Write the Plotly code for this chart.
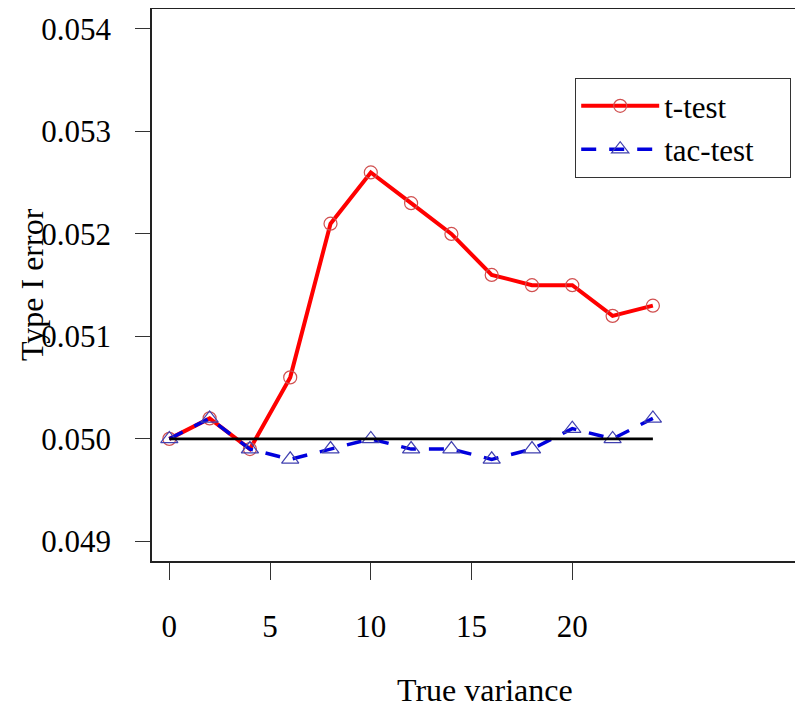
import plotly.graph_objects as go

true_variance = [0, 2, 4, 6, 8, 10, 12, 14, 16, 18, 20, 22, 24]
t_test = [0.0500, 0.0502, 0.0499, 0.0506, 0.0521, 0.0526, 0.0523, 0.0520,
          0.0516, 0.0515, 0.0515, 0.0512, 0.0513]
tac_test = [0.0500, 0.0502, 0.0499, 0.0498, 0.0499, 0.0500, 0.0499, 0.0499,
            0.0498, 0.0499, 0.0501, 0.0500, 0.0502]
ref_x = [0, 24]
ref_y = [0.05, 0.05]
x_ticks = [0, 5, 10, 15, 20]
y_ticks = [0.049, 0.050, 0.051, 0.052, 0.053, 0.054]
y_tick_text = ["0.049", "0.050", "0.051", "0.052", "0.053", "0.054"]
series_names = ["t-test", "tac-test"]

serif = "Liberation Serif"
pad = "\u00a0" * 4  # right-hand breathing room inside the legend box

fig = go.Figure()
fig.add_trace(go.Scatter(
    x=true_variance, y=t_test, name=series_names[0] + pad, mode="lines+markers",
    line=dict(color="#ff0000", width=4),
    marker=dict(symbol="circle-open", size=13, color="#d05050",
                line=dict(width=1.2, color="#d05050")),
))
fig.add_trace(go.Scatter(
    x=true_variance, y=tac_test, name=series_names[1] + pad, mode="lines+markers",
    line=dict(color="#0000dd", width=3.5, dash="15px,13px"),
    marker=dict(symbol="triangle-up-open", size=15, color="#4040b0",
                line=dict(width=1.2, color="#4040b0")),
))
fig.add_trace(go.Scatter(
    x=ref_x, y=ref_y, mode="lines", showlegend=False,
    line=dict(color="#000000", width=2.8), hoverinfo="skip",
))

# page has an 8px body margin: compensate so the plot lands where the reference has it
OFF = 8
W, H = 803 - OFF, 707 - OFF
L, R, T, B = 152 - OFF, 0, 1, 707 - 561
pw = W - L - R
ph = H - T - B

def px_x(px):
    return (px - OFF - L) / pw

def px_y(py):
    return 1 - (py - OFF - T) / ph

fig.update_layout(
    width=W, height=H,
    margin=dict(l=L, r=R, t=T, b=B, pad=0),
    plot_bgcolor="white", paper_bgcolor="white",
    font=dict(family=serif, color="#000000"),
    showlegend=True,
    legend=dict(
        x=px_x(575), y=px_y(78), xanchor="left", yanchor="top",
        bordercolor="#333333", borderwidth=1.2, bgcolor="white",
        font=dict(family=serif, size=31, color="#000000"),
        itemwidth=78, tracegroupgap=0,
    ),
    xaxis=dict(
        range=[-0.86, 31.45], tickvals=x_ticks, ticks="outside", ticklen=17,
        tickwidth=1.2, tickcolor="#333333",
        showline=True, linecolor="#222222", linewidth=1.5, mirror=True,
        showgrid=False, zeroline=False,
        tickfont=dict(family=serif, size=31, color="#000000"),
        ticklabelstandoff=20,
    ),
    yaxis=dict(
        range=[0.048808, 0.054195], tickvals=y_ticks, ticktext=y_tick_text,
        ticks="outside", ticklen=15, tickwidth=1.2, tickcolor="#333333",
        showline=True, linecolor="#222222", linewidth=1.5, mirror=False,
        showgrid=False, zeroline=False,
        tickfont=dict(family=serif, size=31, color="#000000"),
        ticklabelstandoff=18,
    ),
    annotations=[
        dict(text="True variance", xref="paper", yref="paper",
             x=px_x(485), y=px_y(690),
             xanchor="center", yanchor="middle", showarrow=False,
             font=dict(family=serif, size=32, color="#000000")),
        dict(text="Type I error", xref="paper", yref="paper",
             x=px_x(32), y=px_y(285), textangle=-90,
             xanchor="center", yanchor="middle", showarrow=False,
             font=dict(family=serif, size=32, color="#000000")),
    ],
)

fig.write_html("out.html")
